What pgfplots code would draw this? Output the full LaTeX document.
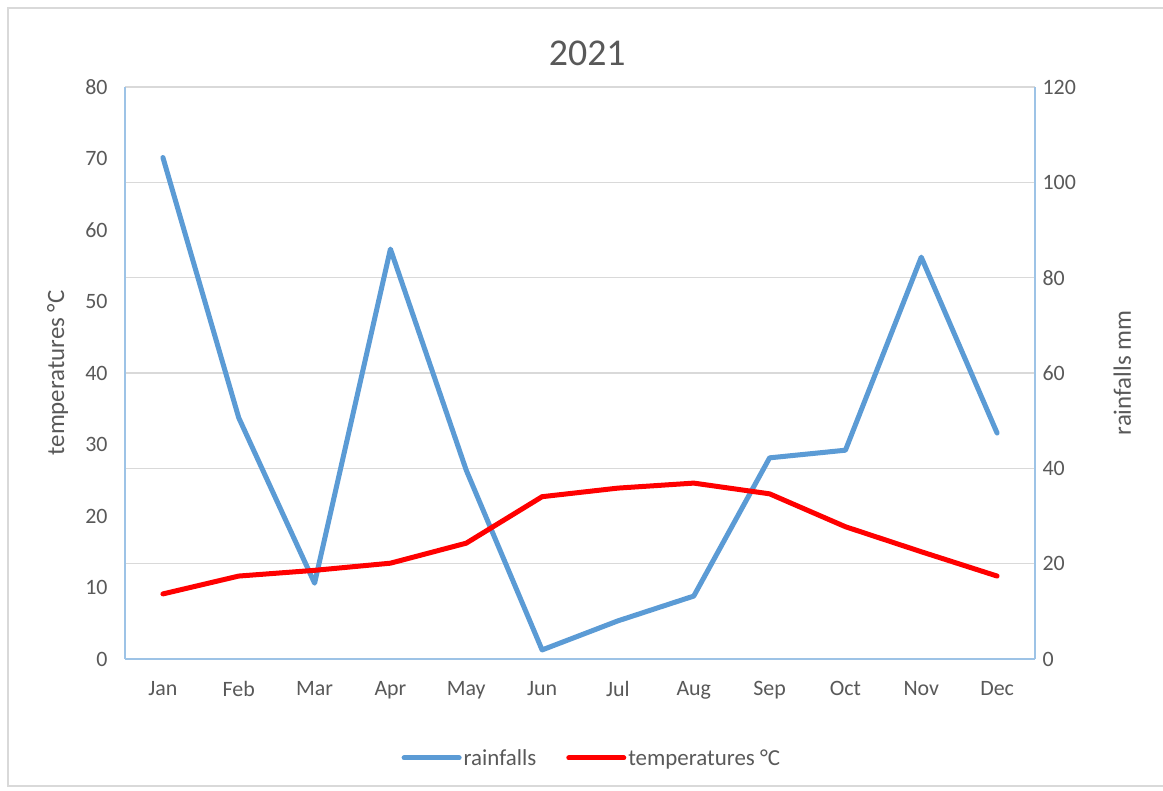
\documentclass[border=0pt]{standalone}
\usepackage{fontspec}
\setmainfont{Carlito}
\usepackage{pgfplots}
\pgfplotsset{compat=1.18}
\definecolor{rainblue}{HTML}{5B9BD5}
\definecolor{axblue}{HTML}{9DC3E6}
\definecolor{txtgray}{HTML}{595959}
\definecolor{gridgray}{HTML}{D9D9D9}
\pgfplotsset{
  common/.style={
    at={(125bp,132bp)}, anchor=south west, scale only axis,
    width=910bp, height=572bp,
    xmin=-0.5, xmax=11.5,
    tick style={draw=none},
    axis line style={axblue, line width=1.3bp},
    ticklabel style={font=\fontsize{22}{26}\selectfont, text=txtgray},
    /pgf/number format/assume math mode=true,
    clip=false,
  }
}
\begin{document}
\begin{tikzpicture}[x=1bp,y=1bp]
\useasboundingbox (0,0) rectangle (1163,791);
\fill[white] (0,0) rectangle (1163,791);
\draw[gridgray, line width=1.5bp] (8,5) rectangle (1180,783);
% right axis: rainfalls
\begin{axis}[common,
  ymin=0, ymax=120, ytick={0,20,...,120},
  axis y line*=right, axis x line=none,
  ymajorgrids, grid style={gridgray, line width=1.2bp},
  yticklabel style={anchor=west, xshift=4bp},
  ylabel={rainfalls mm},
  ylabel style={at={(axis description cs:1.096,0.5)}, anchor=center, rotate=0,
    font=\fontsize{25}{30}\selectfont, text=txtgray},
]
\addplot[rainblue, line width=5bp, line join=round, line cap=round] coordinates {
(0,105.2) (1,50.6) (2,15.9) (3,86.0) (4,39.6) (5,1.9) (6,8.0) (7,13.2) (8,42.2) (9,43.8) (10,84.3) (11,47.4)};
\end{axis}
% left axis: temperatures
\begin{axis}[common,
  ymin=0, ymax=80, ytick={0,10,...,80},
  axis y line*=left, axis x line*=bottom,
  xtick={0,...,11},
  xticklabels={Jan,Feb,Mar,Apr,May,Jun,Jul,Aug,Sep,Oct,Nov,Dec},
  xticklabel style={yshift=-19bp},
  yticklabel style={anchor=east, xshift=-14bp},
  ylabel={temperatures °C},
  ylabel style={at={(axis description cs:-0.074,0.5)}, anchor=center,
    font=\fontsize{25}{30}\selectfont, text=txtgray},
  title={2021},
  title style={at={(axis description cs:0.508,1.049)}, anchor=center,
    font=\fontsize{38}{44}\selectfont, text=txtgray},
  legend style={at={(axis description cs:0.513,-0.173)}, anchor=center,
    draw=none, fill=none, legend columns=2,
    font=\fontsize{23}{27}\selectfont, text=txtgray,
    /tikz/every even column/.append style={column sep=28bp}},
  legend image code/.code={\draw[#1, line cap=round] (0bp,0bp) -- (55bp,0bp);},
]
\addlegendimage{rainblue, line width=5bp}
\addlegendentry{rainfalls}
\addplot[red, line width=5bp, line join=round, line cap=round] coordinates {
(0,9.1) (1,11.6) (2,12.4) (3,13.4) (4,16.2) (5,22.7) (6,23.9) (7,24.6) (8,23.1) (9,18.5) (10,15.0) (11,11.6)};
\addlegendentry{temperatures °C}
\end{axis}
\end{tikzpicture}
\end{document}
